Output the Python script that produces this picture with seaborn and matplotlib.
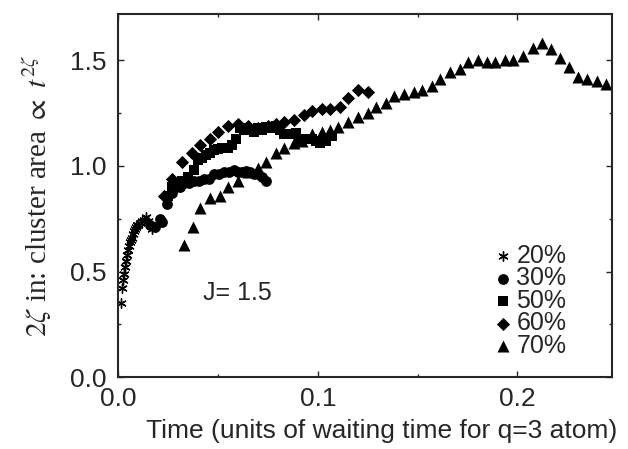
import numpy as np
import pandas as pd
import matplotlib
matplotlib.use('Agg')
import matplotlib.pyplot as plt
from matplotlib.ticker import MultipleLocator
import seaborn as sns

# values
x20 = [0.0015,0.002,0.0025,0.003,0.0035,0.004,0.0045,0.005,0.0055,0.006,0.0065,0.007,0.0075,
       0.008,0.0085,0.009,0.0095,0.010,0.011,0.012,0.013,0.014,0.015,0.016,0.017]
y20 = [0.35,0.42,0.46,0.49,0.52,0.55,0.58,0.60,0.62,0.64,0.65,0.66,0.68,
       0.69,0.70,0.71,0.72,0.72,0.73,0.74,0.745,0.76,0.74,0.72,0.70]

x30 = [0.016,0.0185,0.021,0.022,0.0245,0.027,0.029,0.031,0.033,0.0355,0.038,0.0405,0.043,0.0455,
       0.048,0.0505,0.053,0.0555,0.058,0.060,0.062,0.064,0.066,0.068,0.070,0.072,0.074]
y30 = [0.72,0.71,0.75,0.735,0.82,0.87,0.90,0.90,0.92,0.92,0.93,0.93,0.94,0.94,
       0.96,0.96,0.97,0.97,0.98,0.97,0.97,0.975,0.97,0.96,0.96,0.95,0.93]

x50 = [0.025,0.027,0.030,0.032,0.035,0.038,0.040,0.042,0.044,0.046,0.048,0.050,0.052,0.055,0.057,
       0.059,0.061,0.063,0.065,0.068,0.070,0.072,0.074,0.077,0.079,0.081,0.083,0.086,0.089,0.091,
       0.094,0.097,0.099,0.101,0.104,0.107]
y50 = [0.86,0.90,0.92,0.93,0.95,0.98,1.03,1.04,1.05,1.06,1.075,1.08,1.085,1.085,1.10,
       1.13,1.18,1.17,1.17,1.16,1.18,1.17,1.185,1.18,1.19,1.17,1.15,1.15,1.155,1.13,
       1.13,1.13,1.12,1.11,1.12,1.14]

x60 = [0.023,0.027,0.032,0.037,0.041,0.046,0.050,0.055,0.060,0.065,0.070,0.075,0.079,0.083,
       0.088,0.093,0.097,0.102,0.106,0.111,0.115,0.120,0.125]
y60 = [0.86,0.94,1.02,1.06,1.10,1.13,1.16,1.19,1.20,1.19,1.18,1.19,1.20,1.21,
       1.22,1.24,1.26,1.27,1.27,1.28,1.32,1.36,1.35]

x70 = [0.033,0.0375,0.041,0.046,0.051,0.055,0.060,0.065,0.070,0.074,0.079,0.083,0.088,0.092,
       0.097,0.102,0.106,0.110,0.115,0.120,0.125,0.129,0.134,0.138,0.143,0.148,0.152,0.157,
       0.161,0.166,0.171,0.175,0.180,0.185,0.189,0.194,0.198,0.203,0.208,0.2125,0.217,0.2215,
       0.226,0.2305,0.235,0.240,0.2445]
y70 = [0.625,0.71,0.80,0.85,0.86,0.90,0.93,0.97,0.99,1.02,1.06,1.085,1.11,1.12,
       1.15,1.16,1.17,1.185,1.21,1.23,1.25,1.28,1.30,1.33,1.34,1.35,1.36,1.38,
       1.41,1.445,1.46,1.49,1.50,1.49,1.49,1.50,1.50,1.52,1.56,1.58,1.555,1.51,
       1.47,1.42,1.41,1.40,1.39]

labels = ['20%', '30%', '50%', '60%', '70%']
xs = [x20, x30, x50, x60, x70]
ys = [y20, y30, y50, y60, y70]

df = pd.concat([pd.DataFrame({'t': x, 'zeta': y, 'conc': lab})
                for x, y, lab in zip(xs, ys, labels)], ignore_index=True)

sns.set_style('ticks')
plt.rcParams['font.family'] = ['Liberation Sans', 'DejaVu Sans']
plt.rcParams['mathtext.fontset'] = 'stix'

fig, ax = plt.subplots(figsize=(6.28, 4.49), dpi=100)
fig.subplots_adjust(left=0.188, right=0.975, bottom=0.160, top=0.969)

markers = {'20%': (6, 2, 0), '30%': 'o', '50%': 's', '60%': 'D', '70%': '^'}
sizes = {'20%': 45, '30%': 60, '50%': 50, '60%': 45, '70%': 75}
for lab in labels:
    d = df[df.conc == lab]
    sns.scatterplot(data=d, x='t', y='zeta', ax=ax, marker=markers[lab], s=sizes[lab],
                    color='black', edgecolor='black', linewidth=1.0 if lab == '20%' else 0,
                    label=lab)

ax.set_xlim(0, 0.2475)
ax.set_ylim(0, 1.72)
ax.xaxis.set_major_locator(MultipleLocator(0.1))
ax.xaxis.set_minor_locator(MultipleLocator(0.05))
ax.yaxis.set_major_locator(MultipleLocator(0.5))
ax.yaxis.set_minor_locator(MultipleLocator(0.25))
ax.xaxis.set_major_formatter(plt.FormatStrFormatter('%.1f'))
ax.yaxis.set_major_formatter(plt.FormatStrFormatter('%.1f'))
ax.tick_params(which='both', direction='in', top=True, right=True, labelsize=19, width=1)
ax.tick_params(axis='x', which='major', pad=7)
ax.tick_params(axis='y', which='major', pad=8)
ax.tick_params(which='major', length=4)
ax.tick_params(which='minor', length=2.5)
for sp in ax.spines.values():
    sp.set_linewidth(1.5)

ax.set_xlabel('Time (units of waiting time for q=3 atom)', fontsize=19, labelpad=5)
ax.xaxis.set_label_coords(0.534, -0.115)
ax.set_ylabel(r'$2\zeta$ in: cluster area $\propto$ $t^{2\zeta}$', fontsize=21,
              family=['Liberation Serif', 'DejaVu Serif'], labelpad=12)

ax.text(0.0597, 0.40, 'J= 1.5', fontsize=18, ha='center', va='center')

ax.legend(loc='center left', bbox_to_anchor=(0.715, 0.21), frameon=False, fontsize=18,
          handletextpad=0.0, labelspacing=-0.06, handlelength=1.1, borderpad=0.2)

fig.savefig('out.png', dpi=100)
